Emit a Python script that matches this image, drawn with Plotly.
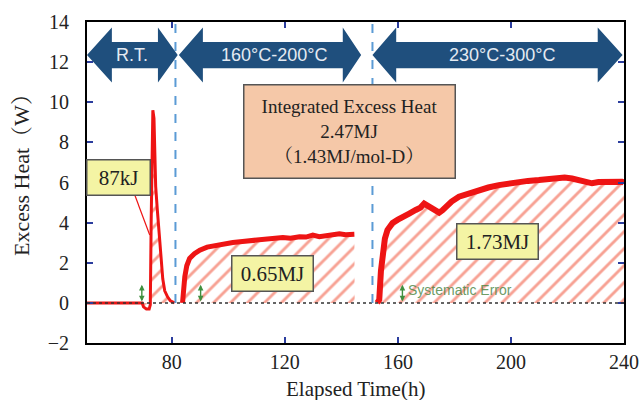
import plotly.graph_objects as go

# Excess heat, room-temperature stage (h, W)
rt_time = [50, 60, 69.5, 70.0, 71.0, 72.0, 72.4, 72.7, 73.0, 73.3, 73.7, 74.0, 74.3,
           74.9, 75.4, 75.8, 76.3, 76.8, 77.5, 78.5, 79.5, 81.0]
rt_heat = [0, 0, 0, -0.2, -0.3, -0.3, -0.1, 4.0, 8.5, 9.6, 9.2, 7.5, 5.8,
           4.6, 3.6, 3.0, 2.0, 1.2, 0.6, 0.3, 0.1, 0.0]

# Excess heat, 160-200 degC stage
mid_time = [83.8, 84.2, 84.6, 85.3, 86.3, 88.0, 89.9, 92.5, 95.8, 98.5, 101.6, 105.0,
            108.0, 111.0, 114.0, 117.0, 119.3, 122.0, 125.2, 127.5, 129.9, 132.2,
            135.0, 137.5, 139.3, 141.5, 143.9, 144.6, 144.7]
mid_heat = [0.0, 0.7, 1.3, 1.85, 2.22, 2.45, 2.63, 2.78, 2.88, 2.93, 3.01, 3.06,
            3.1, 3.16, 3.14, 3.2, 3.26, 3.22, 3.3, 3.28, 3.38, 3.3,
            3.36, 3.42, 3.45, 3.4, 3.38, 3.42, 0.0]

# Excess heat, 230-300 degC stage
high_time = [152.7, 153.4, 154.0, 154.6, 155.4, 156.3, 158.1, 160.0, 161.6, 164.0,
             166.3, 168.0, 169.3, 170.5, 172.0, 173.5, 174.6, 175.8, 176.9, 179.0,
             181.6, 185.0, 188.7, 192.0, 195.7, 199.0, 202.8, 206.0, 209.9, 213.0,
             216.9, 219.0, 221.6, 224.0, 226.5, 228.7, 231.0, 233.4, 236.0, 239.3, 240.0]
high_heat = [0.0, 0.15, 1.6, 2.63, 3.2, 3.63, 3.98, 4.15, 4.3, 4.45,
             4.63, 4.75, 4.95, 4.85, 4.75, 4.6, 4.5, 4.62, 4.8, 5.05,
             5.29, 5.45, 5.63, 5.75, 5.87, 5.95, 6.04, 6.08, 6.12, 6.15,
             6.2, 6.25, 6.2, 6.1, 6.0, 5.96, 6.02, 6.04, 6.0, 6.04, 6.0]

# Stage boundaries (h) and labels for the header arrows
stage_bounds = [81.3, 151.0]
stage_labels = ["R.T.", "160°C-200°C", "230°C-300°C"]
stage_spans = [(50.0, 82.1), (82.5, 147.0), (151.0, 239.5)]
stage_heads = [(8.8, 7.0), (8.5, 6.5), (8.4, 8.8)]

# Integrated energy per stage and totals
stage_energy = ["87kJ", "0.65MJ", "1.73MJ"]
total_text = ["Integrated Excess Heat", "2.47MJ", "（1.43MJ/mol-D）"]

# Systematic-error markers (h)
sys_err_x = [69.4, 90.2, 161.6]
sys_err_half = 0.4

x_ticks = [80, 120, 160, 200, 240]

RED = "#ee1414"
HATCH = "#f04428"
NAVY = "#1f4f7d"
SERIF = "Liberation Serif, Times New Roman, Noto Serif CJK JP, Noto Sans CJK JP, serif"

fig = go.Figure()

segments = [(rt_time, rt_heat, len(rt_time)),
            (mid_time, mid_heat, len(mid_time) - 1),
            (high_time, high_heat, len(high_time))]

# hatched area under each stage
for t, h, _ in segments:
    fig.add_trace(go.Scatter(
        x=t, y=h, mode="lines", fill="tozeroy",
        line=dict(width=0, color=HATCH),
        fillpattern=dict(shape="/", fgcolor=HATCH, bgcolor="white",
                         size=12, solidity=0.24),
        hoverinfo="skip", showlegend=False))

# measured curve on top of the hatch
for (t, h, n), w in zip(segments, [3, 5, 6]):
    fig.add_trace(go.Scatter(
        x=t[:n], y=h[:n], mode="lines",
        line=dict(width=w, color=RED, shape="linear"),
        showlegend=False))

shapes = []
# zero baseline
shapes.append(dict(type="line", xref="x", yref="y", x0=50, x1=240, y0=0, y1=0,
                   line=dict(color="#333333", width=1.5, dash="dot"), layer="above"))
# stage boundaries
for xb in stage_bounds:
    shapes.append(dict(type="line", xref="x", yref="y", x0=xb, x1=xb, y0=0, y1=14,
                       line=dict(color="#5b9bd5", width=2, dash="dash"), layer="above"))

# double-headed stage arrows
yc, yt, yb, st, sb = 12.35, 13.72, 10.98, 13.0, 11.7
for (xl, xr), (hl, hr) in zip(stage_spans, stage_heads):
    path = (f"M {xl},{yc} L {xl+hl},{yt} L {xl+hl},{st} L {xr-hr},{st} "
            f"L {xr-hr},{yt} L {xr},{yc} L {xr-hr},{yb} L {xr-hr},{sb} "
            f"L {xl+hl},{sb} L {xl+hl},{yb} Z")
    shapes.append(dict(type="path", xref="x", yref="y", path=path,
                       fillcolor=NAVY, line=dict(width=0), layer="above"))

# leader from the 87kJ label to the spike
shapes.append(dict(type="line", xref="x", yref="y", x0=66.9, y0=5.38, x1=72.2, y1=3.38,
                   line=dict(color=RED, width=1.2), layer="above"))

annotations = []
for (xl, xr), lab in zip(stage_spans, stage_labels):
    annotations.append(dict(x=(xl + xr) / 2 + (1.5 if lab != "R.T." else 0), y=yc,
                            xref="x", yref="y", text=lab, showarrow=False,
                            font=dict(family="Liberation Sans Narrow, Liberation Sans, sans-serif",
                                      size=18, color="#e4eaf2")))

# total energy box
annotations.append(dict(x=142.8, y=8.54, xref="x", yref="y",
                        text="<br>".join(total_text), showarrow=False,
                        font=dict(family=SERIF, size=19, color="#222222"),
                        bgcolor="#f5c8a8", bordercolor="#555555", borderwidth=1.5,
                        width=208, height=90, borderpad=1, align="center"))

# per-stage energy boxes
for (xe, ye), lab in zip([(61.3, 6.25), (115.6, 1.44), (195.4, 3.08)], stage_energy):
    w = 60 if lab == "87kJ" else 78
    annotations.append(dict(x=xe, y=ye, xref="x", yref="y", text=lab, showarrow=False,
                            font=dict(family=SERIF, size=21, color="#222222"),
                            bgcolor="#f4f4a4", bordercolor="#555555", borderwidth=1.5,
                            width=w, height=32, borderpad=1))

# systematic-error markers
for xs in sys_err_x:
    annotations.append(dict(x=xs, y=2 * sys_err_half + 0.1, ax=xs, ay=0.0,
                            xref="x", yref="y", axref="x", ayref="y", text="",
                            showarrow=True, arrowside="end+start", arrowhead=2,
                            arrowsize=0.8, arrowwidth=1.4, arrowcolor="#3f8f3f"))
annotations.append(dict(x=162.8, y=0.62, xref="x", yref="y", xanchor="left",
                        text="Systematic Error", showarrow=False,
                        font=dict(family="Liberation Sans Narrow, Liberation Sans, sans-serif",
                                  size=14, color="rgba(70,130,60,0.8)")))

# axis titles
annotations.append(dict(x=-0.121, y=0.539, xref="paper", yref="paper",
                        xanchor="center", yanchor="middle",
                        text="Excess Heat（W）", textangle=-90, showarrow=False,
                        font=dict(family=SERIF, size=22, color="#222222")))
annotations.append(dict(x=0.5, y=-0.143, xref="paper", yref="paper",
                        xanchor="center", yanchor="middle",
                        text="Elapsed Time(h)", showarrow=False,
                        font=dict(family=SERIF, size=21, color="#222222")))

axis_common = dict(showgrid=False, zeroline=False, showline=True, linecolor="black",
                   linewidth=2, mirror="ticks", ticks="inside", ticklen=6, tickwidth=1.5,
                   tickcolor="#2b3d9e", automargin=False,
                   tickfont=dict(family=SERIF, size=20, color="#222222"))

fig.update_layout(
    width=640, height=400,
    margin=dict(l=87, r=16, t=22, b=57, autoexpand=False),
    paper_bgcolor="white", plot_bgcolor="white",
    xaxis=dict(range=[50, 240], tickvals=x_ticks, ticklabelstandoff=0, **axis_common),
    yaxis=dict(range=[-2, 14], dtick=2, ticklabelstandoff=12, **axis_common),
    shapes=shapes, annotations=annotations,
)

fig.write_html("out.html")
